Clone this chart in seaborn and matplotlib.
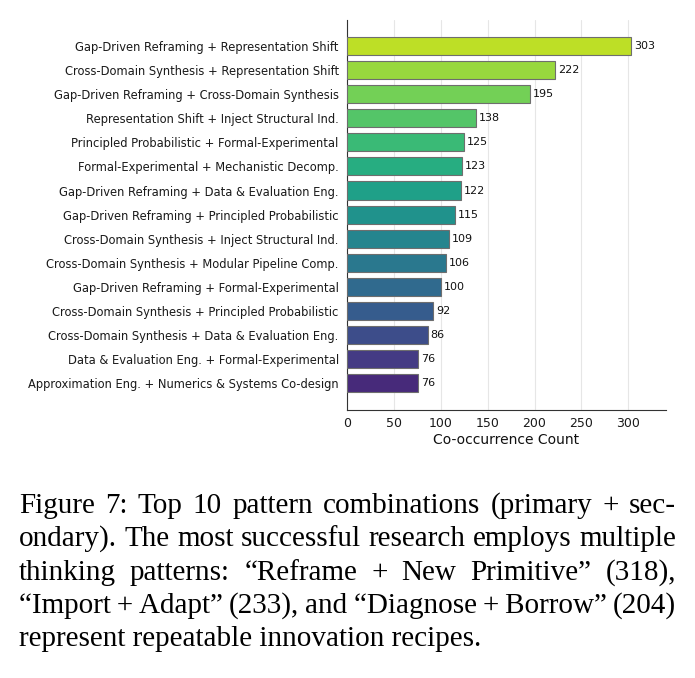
import matplotlib
matplotlib.use("Agg")
import matplotlib.pyplot as plt
import seaborn as sns
import numpy as np
import pandas as pd

# Pattern combinations and co-occurrence counts
combos = [
    "Gap-Driven Reframing + Representation Shift",
    "Cross-Domain Synthesis + Representation Shift",
    "Gap-Driven Reframing + Cross-Domain Synthesis",
    "Representation Shift + Inject Structural Ind.",
    "Principled Probabilistic + Formal-Experimental",
    "Formal-Experimental + Mechanistic Decomp.",
    "Gap-Driven Reframing + Data & Evaluation Eng.",
    "Gap-Driven Reframing + Principled Probabilistic",
    "Cross-Domain Synthesis + Inject Structural Ind.",
    "Cross-Domain Synthesis + Modular Pipeline Comp.",
    "Gap-Driven Reframing + Formal-Experimental",
    "Cross-Domain Synthesis + Principled Probabilistic",
    "Cross-Domain Synthesis + Data & Evaluation Eng.",
    "Data & Evaluation Eng. + Formal-Experimental",
    "Approximation Eng. + Numerics & Systems Co-design",
]
counts = [303, 222, 195, 138, 125, 123, 122, 115, 109, 106, 100, 92, 86, 76, 76]

caption_lines = [
    "Figure 7: Top 10 pattern combinations (primary + sec-",
    "ondary). The most successful research employs multiple",
    "thinking patterns: \u201cReframe + New Primitive\u201d (318),",
    "\u201cImport\u2009+\u2009Adapt\u201d (233), and \u201cDiagnose\u2009+\u2009Borrow\u201d (204)",
    "represent repeatable innovation recipes.",
]

df = pd.DataFrame({"combo": combos, "count": counts})
cmap = sns.color_palette("viridis", as_cmap=True)
palette = [cmap(v) for v in np.linspace(0.9, 0.12, len(combos))]

sns.set_style("white")
fig = plt.figure(figsize=(6.95, 6.78), dpi=100)
ax = fig.add_axes([0.4993, 0.395, 0.4587, 0.5755])

sns.barplot(data=df, x="count", y="combo", hue="combo", palette=palette,
            legend=False, width=0.75, saturation=1, edgecolor="#6e6e6e",
            linewidth=0.8, ax=ax, zorder=3)

for i, v in enumerate(counts):
    ax.text(v + 3, i, str(v), va="center", ha="left", fontsize=8, color="#111111")

ax.set_xlim(0, 340)
ax.set_ylim(len(combos) - 1 + 1.12, -1.08)
ax.set_xticks([0, 50, 100, 150, 200, 250, 300])
ax.xaxis.grid(True, color="#e6e6e6", linewidth=0.8, zorder=0)
ax.set_axisbelow(True)
ax.set_xlabel("Co-occurrence Count", fontsize=10, color="#111111", labelpad=2)
ax.set_ylabel("")
ax.tick_params(axis="y", labelsize=8.3, length=3, color="#333333", pad=3)
ax.tick_params(axis="x", labelsize=9, length=3, color="#333333", pad=2)
for lab in ax.get_yticklabels() + ax.get_xticklabels():
    lab.set_color("#1a1a1a")
sns.despine(ax=ax)
ax.spines["left"].set_color("#333333")
ax.spines["bottom"].set_color("#333333")

# Caption, justified line by line
renderer = fig.canvas.get_renderer()
left_px, right_px = 19, 676
W, H = 695, 678
baselines = [513, 546, 580, 613, 646]
font = dict(family="Liberation Serif", fontsize=21, color="black")
for li, (line, yb) in enumerate(zip(caption_lines, baselines)):
    words = line.split(" ")
    y = 1 - yb / H
    if li == len(caption_lines) - 1:
        fig.text(left_px / W, y, line, va="baseline", ha="left", **font)
        continue
    widths = []
    for w in words:
        t = fig.text(0, 0, w, **font)
        bb = t.get_window_extent(renderer)
        widths.append(bb.width)
        t.remove()
    gap = (right_px - left_px - sum(widths)) / (len(words) - 1)
    x = left_px
    for w, wd in zip(words, widths):
        fig.text(x / W, y, w, va="baseline", ha="left", **font)
        x += wd + gap

fig.savefig("out.png", dpi=100)
